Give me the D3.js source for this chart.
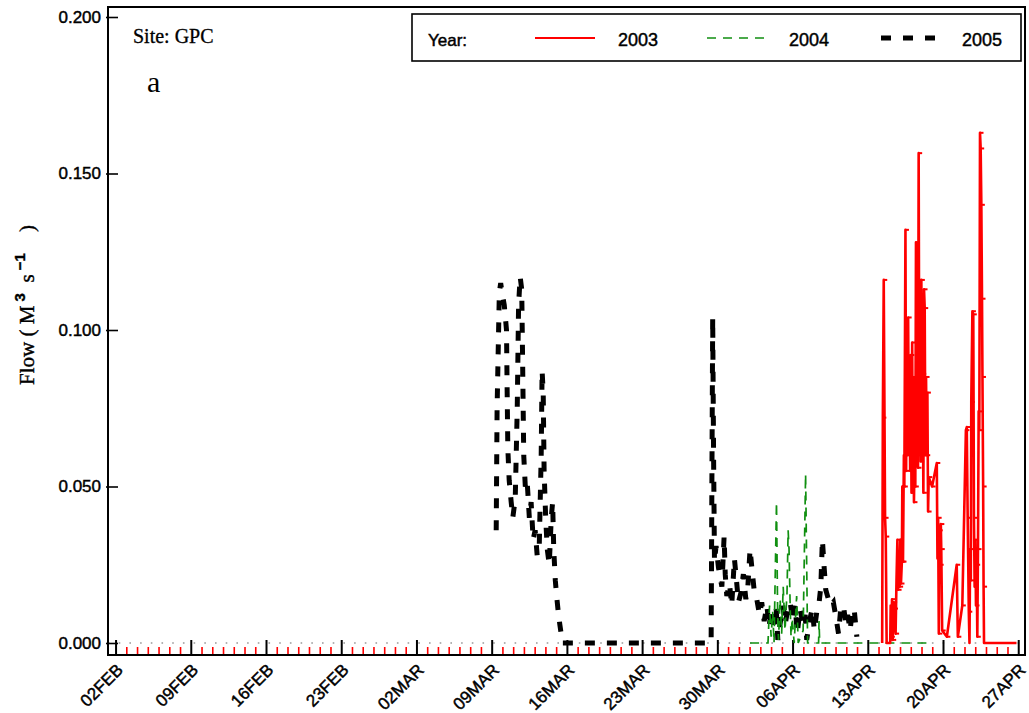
<!DOCTYPE html>
<html>
<head>
<meta charset="utf-8">
<script src="https://cdn.jsdelivr.net/npm/d3@7"></script>
<style>
  body { margin: 0; background: #fff; }
  svg text { font-family: "Liberation Sans", Arial, sans-serif; white-space: pre; }
  .heavy { stroke: #000; stroke-width: 0.45px; }
</style>
</head>
<body>
<svg id="flow-chart-svg" width="1029" height="713"></svg>
<script>
// ---- data ----
let siteLabel = "Site: GPC";
let panelLabel = "a";
let legendTitle = "Year:";
let yearNames = ["2003", "2004", "2005"];
let yTickValues = [0, 0.05, 0.10, 0.15, 0.20];
let xTickLabels = ["02FEB", "09FEB", "16FEB", "23FEB", "02MAR", "09MAR", "16MAR",
    "23MAR", "30MAR", "06APR", "13APR", "20APR", "27APR"];

// [month-day hour, flow m3/s]
let flow2005 = [
    ["03-09 09:00", 0.036], ["03-09 11:00", 0.075], ["03-09 16:00", 0.112], ["03-09 19:00", 0.115],
    ["03-09 22:00", 0.112], ["03-10 03:00", 0.108], ["03-10 08:00", 0.100], ["03-10 09:30", 0.080],
    ["03-10 11:00", 0.062], ["03-10 14:00", 0.052], ["03-10 18:30", 0.045], ["03-10 22:00", 0.040],
    ["03-11 03:30", 0.046], ["03-11 08:00", 0.075], ["03-11 11:00", 0.108], ["03-11 14:30", 0.117],
    ["03-11 18:00", 0.113], ["03-11 20:00", 0.090], ["03-11 22:30", 0.060], ["03-12 02:00", 0.050],
    ["03-12 06:00", 0.052], ["03-12 11:00", 0.040], ["03-12 15:00", 0.045], ["03-12 19:30", 0.033],
    ["03-13 00:00", 0.036], ["03-13 04:30", 0.028], ["03-13 09:00", 0.030], ["03-13 13:30", 0.060],
    ["03-13 15:30", 0.087], ["03-13 18:00", 0.080], ["03-13 20:00", 0.055], ["03-13 23:30", 0.040],
    ["03-14 03:00", 0.030], ["03-14 07:30", 0.025], ["03-14 12:00", 0.040], ["03-14 15:00", 0.045],
    ["03-14 17:30", 0.030], ["03-14 21:00", 0.020], ["03-15 00:00", 0.015], ["03-15 03:30", 0.010],
    ["03-15 07:00", 0.006], ["03-15 10:00", 0.003], ["03-15 12:30", 0.000],
    ["03-29 09:00", 0.000], ["03-29 12:30", 0.104], ["03-29 14:30", 0.060], ["03-29 16:30", 0.026],
    ["03-29 20:00", 0.031], ["03-30 01:30", 0.024], ["03-30 09:00", 0.018], ["03-30 14:00", 0.034],
    ["03-30 16:30", 0.022], ["03-30 20:00", 0.015], ["03-31 02:00", 0.019], ["03-31 07:00", 0.012],
    ["03-31 13:00", 0.027], ["03-31 17:00", 0.021], ["03-31 22:00", 0.013], ["04-01 03:30", 0.016],
    ["04-01 09:00", 0.022], ["04-01 14:30", 0.014], ["04-01 19:00", 0.018], ["04-02 00:00", 0.030],
    ["04-02 04:00", 0.024], ["04-02 09:00", 0.017], ["04-02 15:00", 0.014], ["04-02 21:00", 0.009],
    ["04-03 02:00", 0.013], ["04-03 07:30", 0.007], ["04-03 13:30", 0.012], ["04-03 18:30", 0.005],
    ["04-03 23:00", 0.011], ["04-04 05:30", 0.004], ["04-04 10:00", 0.012], ["04-04 14:00", 0.001],
    ["04-04 19:00", 0.006], ["04-05 01:00", 0.012], ["04-05 06:30", 0.006], ["04-05 12:30", 0.011],
    ["04-05 17:30", 0.013], ["04-05 23:30", 0.007], ["04-06 04:30", 0.012], ["04-06 09:30", 0.003],
    ["04-06 15:30", 0.011], ["04-06 22:00", 0.006], ["04-07 03:00", 0.009], ["04-07 06:30", 0.001],
    ["04-07 12:30", 0.007], ["04-07 19:00", 0.011], ["04-07 23:30", 0.004], ["04-08 05:00", 0.010],
    ["04-08 09:30", 0.012], ["04-08 14:00", 0.018], ["04-08 17:30", 0.033], ["04-08 21:30", 0.024],
    ["04-09 01:00", 0.017], ["04-09 07:00", 0.014], ["04-09 12:30", 0.012], ["04-09 18:00", 0.013],
    ["04-10 00:00", 0.008], ["04-10 05:30", 0.003], ["04-10 10:30", 0.011], ["04-10 16:30", 0.012],
    ["04-10 22:00", 0.006], ["04-11 02:00", 0.009], ["04-11 07:30", 0.004], ["04-11 12:30", 0.011],
    ["04-11 17:00", 0.010], ["04-11 22:30", 0.002]
];

let flow2004 = [
    ["04-02 00:00", 0.000], ["04-03 16:00", 0.000], ["04-03 19:30", 0.012], ["04-03 23:00", 0.002],
    ["04-04 02:30", 0.010], ["04-04 05:30", 0.000], ["04-04 11:00", 0.045], ["04-04 13:30", 0.010],
    ["04-04 15:30", 0.001], ["04-04 19:00", 0.014], ["04-04 22:30", 0.003], ["04-05 02:00", 0.018],
    ["04-05 06:00", 0.004], ["04-05 10:30", 0.016], ["04-05 13:00", 0.036], ["04-05 15:00", 0.030],
    ["04-05 17:30", 0.012], ["04-05 19:30", 0.002], ["04-05 22:00", 0.008], ["04-06 02:30", 0.000],
    ["04-06 08:00", 0.015], ["04-06 11:30", 0.000], ["04-06 22:30", 0.004], ["04-07 04:00", 0.054],
    ["04-07 06:00", 0.030], ["04-07 08:30", 0.000], ["04-08 09:00", 0.000], ["04-08 10:00", 0.007],
    ["04-08 11:30", 0.000], ["04-18 22:30", 0.000]
];

let flow2003 = [
    ["04-14 07:00", 0.000], ["04-14 08:30", 0.072], ["04-14 10:30", 0.116], ["04-14 13:30", 0.040],
    ["04-14 15:00", 0.034], ["04-14 17:00", 0.000], ["04-15 01:00", 0.000], ["04-15 02:00", 0.012],
    ["04-15 03:30", 0.002], ["04-15 05:00", 0.014], ["04-15 06:30", 0.001], ["04-15 08:30", 0.013],
    ["04-15 10:30", 0.011], ["04-15 13:00", 0.003], ["04-15 15:00", 0.020], ["04-15 17:00", 0.033],
    ["04-15 18:30", 0.017], ["04-15 20:00", 0.028], ["04-15 22:00", 0.018], ["04-15 23:30", 0.033],
    ["04-16 01:00", 0.019], ["04-16 03:00", 0.026], ["04-16 04:00", 0.050], ["04-16 05:30", 0.026],
    ["04-16 07:30", 0.060], ["04-16 08:30", 0.050], ["04-16 11:00", 0.132], ["04-16 12:30", 0.055],
    ["04-16 14:00", 0.090], ["04-16 15:30", 0.060], ["04-16 17:00", 0.104], ["04-16 18:30", 0.065],
    ["04-16 20:00", 0.085], ["04-16 21:30", 0.055], ["04-16 23:00", 0.092], ["04-17 00:30", 0.048],
    ["04-17 02:00", 0.096], ["04-17 03:30", 0.050], ["04-17 04:30", 0.085], ["04-17 06:00", 0.045],
    ["04-17 08:00", 0.068], ["04-17 09:00", 0.050], ["04-17 10:30", 0.128], ["04-17 12:00", 0.060],
    ["04-17 13:30", 0.095], ["04-17 15:00", 0.056], ["04-17 16:30", 0.1565], ["04-17 18:00", 0.070],
    ["04-17 19:30", 0.093], ["04-17 21:00", 0.058], ["04-17 22:30", 0.116], ["04-18 00:00", 0.062],
    ["04-18 01:30", 0.086], ["04-18 03:00", 0.048], ["04-18 04:30", 0.113], ["04-18 06:00", 0.107],
    ["04-18 07:30", 0.060], ["04-18 09:00", 0.085], ["04-18 10:30", 0.060], ["04-18 12:00", 0.080],
    ["04-18 13:30", 0.042], ["04-18 15:00", 0.053], ["04-18 22:30", 0.050], ["04-19 09:00", 0.0575],
    ["04-19 10:30", 0.027], ["04-19 12:00", 0.040], ["04-19 13:30", 0.003], ["04-19 14:30", 0.036],
    ["04-19 16:30", 0.025], ["04-19 18:00", 0.038], ["04-19 19:00", 0.030], ["04-19 21:00", 0.004],
    ["04-20 07:30", 0.002], ["04-21 05:30", 0.025], ["04-21 08:00", 0.002], ["04-21 18:00", 0.012],
    ["04-22 02:00", 0.068], ["04-22 04:00", 0.069], ["04-22 06:00", 0.040], ["04-22 08:30", 0.010],
    ["04-22 10:00", 0.000], ["04-22 11:30", 0.030], ["04-22 13:00", 0.020], ["04-22 14:00", 0.077],
    ["04-22 16:30", 0.106], ["04-22 18:30", 0.105], ["04-22 20:00", 0.040], ["04-22 21:30", 0.018],
    ["04-22 23:00", 0.033], ["04-23 00:30", 0.012], ["04-23 02:00", 0.025], ["04-23 03:30", 0.002],
    ["04-23 05:00", 0.030], ["04-23 06:30", 0.074], ["04-23 08:00", 0.068], ["04-23 09:30", 0.163],
    ["04-23 11:00", 0.158], ["04-23 12:30", 0.140], ["04-23 14:00", 0.110], ["04-23 15:00", 0.085],
    ["04-23 16:30", 0.050], ["04-23 17:30", 0.018], ["04-23 18:30", 0.000], ["04-26 19:00", 0.000]
];

// ---- layout ----
let svgWidth = 1029;
let svgHeight = 713;
let framePadding = {t: 7, r: 4, b: 58, l: 108};
let frameRight = svgWidth - framePadding.r;
let frameBottom = svgHeight - framePadding.b;

let color2003 = "#ff0000";
let color2004 = "#108f10";
let color2005 = "#000000";
let serifFont = '"Liberation Serif", "Times New Roman", serif';

let parseTime = d3.timeParse("%m-%d %H:%M");
let parseTick = d3.timeParse("%d%b");

let xScale = d3.scaleTime()
    .domain([parseTime("02-01 06:00"), parseTime("04-27 14:00")])
    .range([framePadding.l, frameRight]);
let yScale = d3.scaleLinear().domain([0, 0.2]).range([643, 17]);

let svg = d3.select('#flow-chart-svg');

// zero reference line (dotted grey)
svg.append('line')
    .attr('x1', framePadding.l)
    .attr('x2', frameRight)
    .attr('y1', yScale(0))
    .attr('y2', yScale(0))
    .attr('stroke', '#999')
    .attr('stroke-width', 1.6)
    .attr('stroke-dasharray', '1.6,9.1');

// daily minor ticks (red) and weekly major ticks (black)
let majorDates = xTickLabels.map(s => parseTick(s));
let majorKeys = majorDates.map(d => +d);
let allDays = d3.timeDay.range(majorDates[0], d3.timeDay.offset(majorDates[majorDates.length - 1], 1));
let minorDays = allDays.filter(d => majorKeys.indexOf(+d) < 0);

svg.append('g').attr('class', 'minor-ticks')
    .selectAll('line')
    .data(minorDays)
    .join('line')
    .attr('x1', d => xScale(d))
    .attr('x2', d => xScale(d))
    .attr('y1', frameBottom - 8)
    .attr('y2', frameBottom)
    .attr('stroke', '#ff0000')
    .attr('stroke-width', 1.6);

svg.append('g').attr('class', 'major-ticks')
    .selectAll('line')
    .data(majorDates)
    .join('line')
    .attr('x1', d => xScale(d))
    .attr('x2', d => xScale(d))
    .attr('y1', frameBottom - 15)
    .attr('y2', frameBottom)
    .attr('stroke', '#000')
    .attr('stroke-width', 2);

svg.append('g').attr('class', 'x-labels')
    .selectAll('text')
    .data(xTickLabels)
    .join('text')
    .attr('class', 'heavy')
    .attr('transform', (d, i) => `translate(${xScale(majorDates[i]) + 8},${frameBottom + 16}) rotate(-45)`)
    .attr('text-anchor', 'end')
    .style('font-size', '17px')
    .text(d => d);

// y axis
let yAxis = d3.axisLeft(yScale)
    .tickValues(yTickValues)
    .tickFormat(d3.format('.3f'))
    .tickSizeInner(-10)
    .tickSizeOuter(0)
    .tickPadding(7);
let yAxisG = svg.append('g')
    .attr('transform', `translate(${framePadding.l}, 0)`)
    .attr('class', 'y axis')
    .call(yAxis);
yAxisG.select('.domain').remove();
yAxisG.selectAll('.tick line').attr('x1', -2).attr('stroke-width', 1.6);
yAxisG.selectAll('.tick text')
    .attr('class', 'heavy')
    .attr('font-family', '"Liberation Sans", Arial, sans-serif')
    .style('font-size', '17px')
    .attr('fill', '#000');

// series lines
let lineFun = d3.line()
    .x(d => xScale(parseTime(d[0])))
    .y(d => yScale(d[1]));

let lineG = svg.append('g').attr('class', 'pathG');
lineG.append('path')
    .datum(flow2005)
    .attr('fill', 'none')
    .attr('stroke', color2005)
    .attr('stroke-width', 5)
    .attr('stroke-dasharray', '10,12')
    .attr('d', lineFun);
lineG.append('path')
    .datum(flow2004)
    .attr('fill', 'none')
    .attr('stroke', color2004)
    .attr('stroke-width', 1.7)
    .attr('stroke-dasharray', '9,7')
    .attr('d', lineFun);
lineG.append('path')
    .datum(flow2003)
    .attr('fill', 'none')
    .attr('stroke', color2003)
    .attr('stroke-width', 2.6)
    .attr('stroke-linejoin', 'round')
    .attr('d', lineFun);
// small point marks on the 2003 series
lineG.append('g')
    .selectAll('line')
    .data(flow2003.filter(d => d[1] > 0))
    .join('line')
    .attr('x1', d => xScale(parseTime(d[0])))
    .attr('x2', d => xScale(parseTime(d[0])) + 3.5)
    .attr('y1', d => yScale(d[1]))
    .attr('y2', d => yScale(d[1]))
    .attr('stroke', color2003)
    .attr('stroke-width', 2);

// frame
svg.append('rect')
    .attr('x', framePadding.l)
    .attr('y', framePadding.t)
    .attr('width', frameRight - framePadding.l)
    .attr('height', frameBottom - framePadding.t)
    .attr('fill', 'none')
    .attr('stroke', '#000')
    .attr('stroke-width', 2);

// site + panel labels
svg.append('text')
    .attr('x', 133)
    .attr('y', 43)
    .style('font-family', serifFont)
    .style('font-size', '20px')
    .style('stroke', '#000')
    .style('stroke-width', '0.3px')
    .text(siteLabel);
svg.append('text')
    .attr('x', 147)
    .attr('y', 92)
    .style('font-family', serifFont)
    .style('font-size', '30px')
    .text(panelLabel);

// y title
let yTitle = svg.append('text')
    .attr('transform', 'translate(34, 305) rotate(-90)')
    .attr('text-anchor', 'middle')
    .style('font-family', serifFont)
    .style('font-size', '21px')
    .style('stroke', '#000')
    .style('stroke-width', '0.4px');
yTitle.append('tspan').text('Flow ( M');
yTitle.append('tspan').attr('dy', -9).style('font-size', '15px')
    .style('font-family', '"Liberation Sans", Arial, sans-serif').style('font-weight', 'bold').text(' 3');
yTitle.append('tspan').attr('dy', 9).text('  s');
yTitle.append('tspan').attr('dy', -9).style('font-size', '15px')
    .style('font-family', '"Liberation Sans", Arial, sans-serif').style('font-weight', 'bold').text(' \u22121');
yTitle.append('tspan').attr('dy', 9).text('    )');

// legend
let legend = svg.append('g').attr('class', 'legend');
legend.append('rect')
    .attr('x', 412)
    .attr('y', 14)
    .attr('width', 609)
    .attr('height', 47)
    .attr('fill', '#fff')
    .attr('stroke', '#000')
    .attr('stroke-width', 1.6);
legend.append('text').attr('class', 'heavy')
    .attr('x', 428).attr('y', 46).style('font-size', '17px').text(legendTitle);

let legendItems = [
    {x: 535, w: 60, color: color2003, width: 2, dash: null, tx: 618},
    {x: 707, w: 60, color: color2004, width: 1.6, dash: '9,7', tx: 789},
    {x: 881, w: 54, color: color2005, width: 5, dash: '10,12', tx: 962}
];
legendItems.forEach((it, i) => {
    legend.append('line')
        .attr('x1', it.x)
        .attr('x2', it.x + it.w)
        .attr('y1', 38)
        .attr('y2', 38)
        .attr('stroke', it.color)
        .attr('stroke-width', it.width)
        .attr('stroke-dasharray', it.dash);
    legend.append('text')
        .attr('class', 'heavy')
        .attr('x', it.tx)
        .attr('y', 46)
        .style('font-size', '18px')
        .text(yearNames[i]);
});
</script>
</body>
</html>
